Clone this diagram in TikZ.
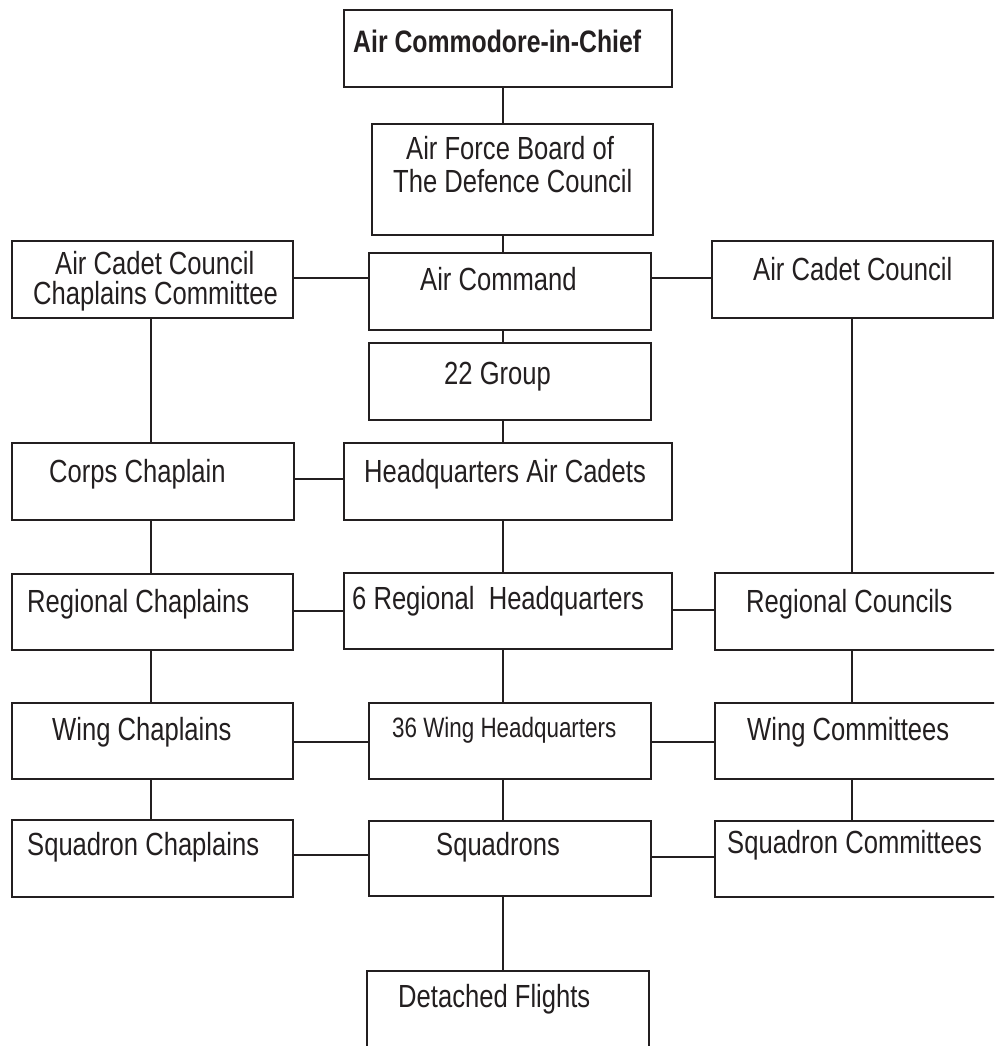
\documentclass[tikz,border=0pt]{standalone}
\usepackage{fontspec}
\setmainfont{Liberation Sans}[FakeStretch=0.8]
\definecolor{ink}{HTML}{231F20}
\begin{document}
\begin{tikzpicture}[x=1pt,y=-1pt,
  box/.style={draw=ink,line width=2.4pt,inner sep=0pt},
  conn/.style={draw=ink,line width=2.3pt},
  lbl/.style={anchor=base west,inner sep=0pt,text=ink,font=\fontsize{32pt}{36pt}\selectfont},
  lbls/.style={lbl,font=\fontsize{28pt}{32pt}\selectfont},
  lblb/.style={lbl,font=\fontsize{31pt}{36pt}\selectfont\bfseries}]
\clip (0,0) rectangle (994,1046);
\fill[white] (0,0) rectangle (994,1046);
% boxes: (left,top) rectangle (right,bottom)
\newcommand{\mkbox}[5]{\node[box,minimum width={#4-#2},minimum height={#5-#3}] (#1) at ({(#2+#4)/2},{(#3+#5)/2}) {};}
\mkbox{top}{344}{10}{672}{87}
\mkbox{afb}{372}{124}{653}{235}
\mkbox{accc}{12}{241}{293}{318}
\mkbox{ac}{369}{253}{651}{330}
\mkbox{acc}{712}{241}{993}{318}
\mkbox{g22}{369}{343}{651}{420}
\mkbox{cc}{12}{443}{294}{520}
\mkbox{hq}{344}{443}{672}{520}
\mkbox{rc}{12}{574}{293}{650}
\mkbox{rhq}{344}{573}{672}{649}
\mkbox{rco}{715}{573}{1010}{650}
\mkbox{wc}{12}{703}{293}{779}
\mkbox{whq}{369}{703}{651}{779}
\mkbox{wco}{715}{703}{1010}{779}
\mkbox{sc}{12}{820}{293}{897}
\mkbox{sq}{369}{821}{651}{896}
\mkbox{sco}{715}{821}{1010}{897}
\mkbox{df}{367}{971}{649}{1080}
% guide coordinates
\coordinate (mx) at (503,0);
\coordinate (lx) at (151,0);
\coordinate (rx) at (852,0);
\coordinate (y1) at (0,278);
\coordinate (y2) at (0,479);
\coordinate (y3) at (0,611);
\coordinate (y3r) at (0,610);
\coordinate (y4) at (0,742);
\coordinate (y5) at (0,855);
\coordinate (y5r) at (0,857);
% centre column
\draw[conn] (top.south -| mx) -- (afb.north -| mx);
\draw[conn] (afb.south -| mx) -- (ac.north -| mx);
\draw[conn] (ac.south -| mx) -- (g22.north -| mx);
\draw[conn] (g22.south -| mx) -- (hq.north -| mx);
\draw[conn] (hq.south -| mx) -- (rhq.north -| mx);
\draw[conn] (rhq.south -| mx) -- (whq.north -| mx);
\draw[conn] (whq.south -| mx) -- (sq.north -| mx);
\draw[conn] (sq.south -| mx) -- (df.north -| mx);
% left column
\draw[conn] (accc.south -| lx) -- (cc.north -| lx);
\draw[conn] (cc.south -| lx) -- (rc.north -| lx);
\draw[conn] (rc.south -| lx) -- (wc.north -| lx);
\draw[conn] (wc.south -| lx) -- (sc.north -| lx);
% right column
\draw[conn] (acc.south -| rx) -- (rco.north -| rx);
\draw[conn] (rco.south -| rx) -- (wco.north -| rx);
\draw[conn] (wco.south -| rx) -- (sco.north -| rx);
% horizontals
\draw[conn] (accc.east |- y1) -- (ac.west |- y1);
\draw[conn] (ac.east |- y1) -- (acc.west |- y1);
\draw[conn] (cc.east |- y2) -- (hq.west |- y2);
\draw[conn] (rc.east |- y3) -- (rhq.west |- y3);
\draw[conn] (rhq.east |- y3r) -- (rco.west |- y3r);
\draw[conn] (wc.east |- y4) -- (whq.west |- y4);
\draw[conn] (whq.east |- y4) -- (wco.west |- y4);
\draw[conn] (sc.east |- y5) -- (sq.west |- y5);
\draw[conn] (sq.east |- y5r) -- (sco.west |- y5r);
% labels
\node[lblb] (t-top) at (353,53) {Air Commodore-in-Chief};
\node[lbl] (t-afb1) at (406,159) {Air Force Board of};
\node[lbl] (t-afb2) at (393,192) {The Defence Council};
\node[lbl] (t-accc1) at (55,274) {Air Cadet Council};
\node[lbl] (t-accc2) at (33,304) {Chaplains Committee};
\node[lbl] (t-ac) at (420,290) {Air Command};
\node[lbl] (t-acc) at (753,280) {Air Cadet Council};
\node[lbl] (t-g22) at (444,384) {22 Group};
\node[lbl] (t-cc) at (49,482) {Corps Chaplain};
\node[lbl] (t-hq) at (364,482) {Headquarters Air Cadets};
\node[lbl] (t-rc) at (27,612) {Regional Chaplains};
\node[lbl] (t-rhq) at (352,609) {6 Regional\ \ Headquarters};
\node[lbl] (t-rco) at (746,612) {Regional Councils};
\node[lbl] (t-wc) at (52,740) {Wing Chaplains};
\node[lbls] (t-whq) at (392,737) {36 Wing Headquarters};
\node[lbl] (t-wco) at (747,740) {Wing Committees};
\node[lbl] (t-sc) at (27,855) {Squadron Chaplains};
\node[lbl] (t-sq) at (436,855) {Squadrons};
\node[lbl] (t-sco) at (727,853) {Squadron Committees};
\node[lbl] (t-df) at (398,1007) {Detached Flights};
\end{tikzpicture}
\end{document}
